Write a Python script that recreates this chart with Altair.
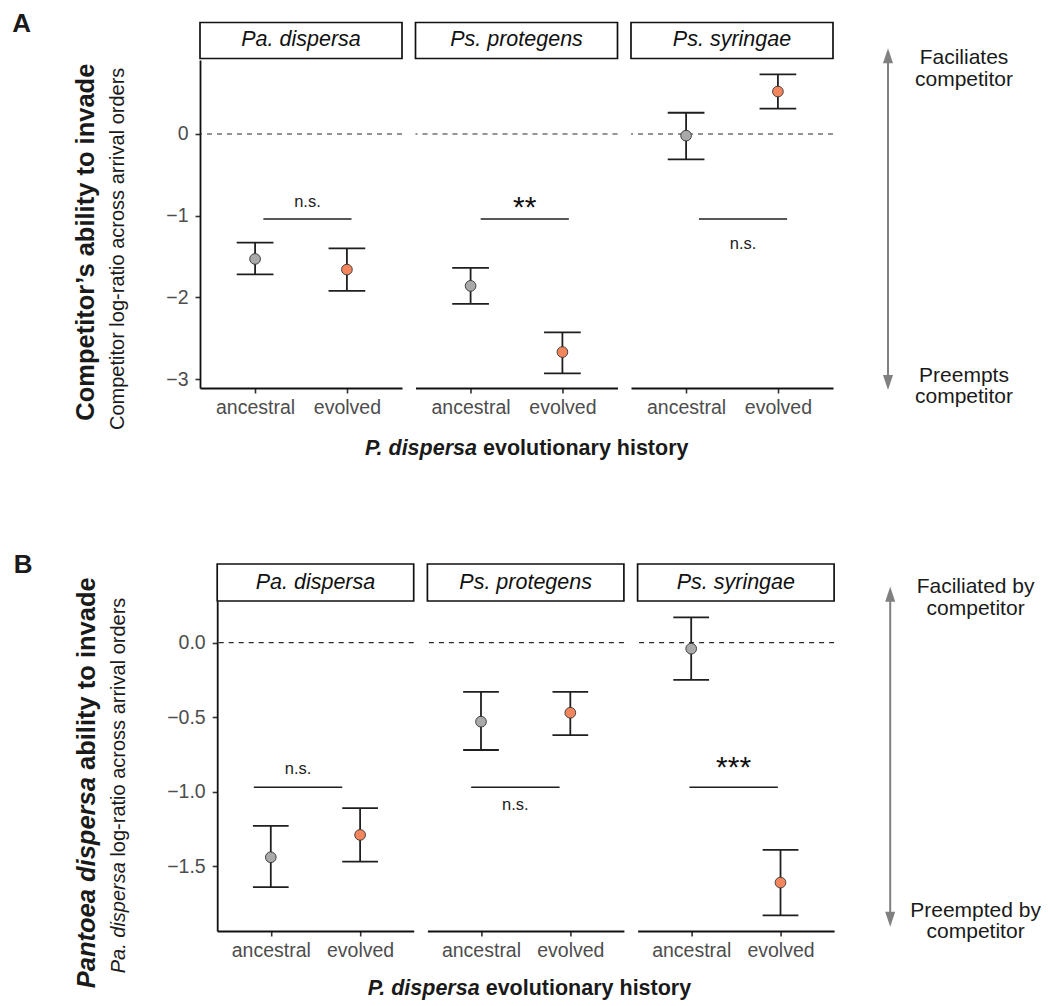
import json
import altair as alt
import pandas as pd

FONT = "Liberation Sans"
INK = "#1a1a1a"
TICK_GREY = "#4d4d4d"
LINE = "#1f1f1f"

species = ["Pa. dispersa", "Ps. protegens", "Ps. syringae"]
history = ["ancestral", "evolved"]
history_fill = ["#a9a9a9", "#f4865e"]

# (A) competitor log-ratio across arrival orders; order: species x (ancestral, evolved)
a_mean = [-1.53, -1.66, -1.86, -2.67, -0.02, 0.52]
a_lower = [-1.72, -1.92, -2.08, -2.93, -0.31, 0.31]
a_upper = [-1.33, -1.40, -1.64, -2.43, 0.26, 0.73]
a_sig = ["n.s.", "**", "n.s."]
a_sig_line = [-1.04, -1.04, -1.04]
a_sig_label = [-0.83, -0.81, -1.35]
a_sig_from = [1.09, 1.11, 1.14]
a_sig_to = [2.05, 2.07, 2.10]

# (B) Pa. dispersa log-ratio across arrival orders
b_mean = [-1.44, -1.29, -0.53, -0.47, -0.04, -1.61]
b_lower = [-1.64, -1.47, -0.72, -0.62, -0.25, -1.83]
b_upper = [-1.23, -1.11, -0.33, -0.33, 0.17, -1.39]
b_sig = ["n.s.", "n.s.", "***"]
b_sig_line = [-0.97, -0.97, -0.97]
b_sig_label = [-0.85, -1.09, -0.79]
b_sig_from = [0.81, 0.89, 0.98]
b_sig_to = [1.80, 1.88, 1.97]

a_arrow_text = [["Faciliates", "competitor"], ["Preempts", "competitor"]]
b_arrow_text = [["Faciliated by", "competitor"], ["Preempted by", "competitor"]]

one = pd.DataFrame({"k": [0]})


def points_frame(mean, lower, upper):
    recs = []
    for i, sp in enumerate(species):
        for j, h in enumerate(history):
            n = 2 * i + j
            recs.append(dict(species=sp, history=h, mean=mean[n], lower=lower[n], upper=upper[n]))
    return pd.DataFrame(recs)


def sig_frame(sig, line, label, x_from, x_to):
    return pd.DataFrame(dict(species=species, sig=sig, line=line, ty=label, x_from=x_from, x_to=x_to))


def txt(text, x, y, size, weight="normal", style="normal", angle=0, align="left",
        baseline="alphabetic", color=INK):
    return alt.Chart(one).mark_text(
        text=text, font=FONT, fontSize=size, fontWeight=weight, fontStyle=style,
        angle=angle, align=align, baseline=baseline, color=color,
    ).encode(x=alt.value(x), y=alt.value(y))


def two_lines(lines, x, y_first, gap, size):
    # a two-line caption, drawn as one text mark per line
    return [txt(lines[0], x, y_first, size, align="center"),
            txt(lines[1], x, y_first + gap, size, align="center")]


def arrow(x, y_top, y_bottom):
    head = 225
    return [
        alt.Chart(one).mark_rule(color="#808080", strokeWidth=2).encode(
            x=alt.value(x), y=alt.value(y_top + 7), y2=alt.value(y_bottom - 7)
        ),
        alt.Chart(one).mark_point(shape="M0,-1L0.667,1L-0.667,1Z", size=head, filled=True,
                                  color="#808080", opacity=1).encode(x=alt.value(x), y=alt.value(y_top + 7.5)),
        alt.Chart(one).mark_point(shape="M0,1L0.667,-1L-0.667,-1Z", size=head, filled=True,
                                  color="#808080", opacity=1).encode(x=alt.value(x), y=alt.value(y_bottom - 7.5)),
    ]


def panel(k, pts, sig, spec):
    sp = species[k]
    w, h = spec["w"], spec["h"]
    xscale = alt.Scale(domain=[0.4, 2.6], nice=False, zero=False)
    yscale = alt.Scale(domain=spec["ydom"], nice=False, zero=False)
    xaxis = alt.Axis(
        values=[1, 2], title=None, grid=False, labelFlush=False,
        labelExpr=f"datum.value == 1 ? '{history[0]}' : '{history[1]}'",
    )
    yaxis = None
    if k == 0:
        yaxis = alt.Axis(values=spec["yticks"], format=spec["yfmt"], title=None, grid=False)

    def X(f):
        return alt.X(f, type="quantitative", scale=xscale, axis=xaxis)

    def Y(f):
        return alt.Y(f, type="quantitative", scale=yscale, axis=yaxis)

    pos = f"indexof({json.dumps(history)}, datum.history) + 1"
    base = alt.Chart(pts).transform_filter(alt.datum.species == sp).transform_calculate(
        xpos=pos
    ).transform_calculate(xl="datum.xpos - 0.2", xr="datum.xpos + 0.2")
    sbase = alt.Chart(sig).transform_filter(alt.datum.species == sp).transform_calculate(
        mid="(datum.x_from + datum.x_to) / 2"
    )

    zero = alt.Chart(one).mark_rule(strokeDash=[5, 5], color="#2a2a2a", strokeWidth=1.2).encode(
        y=alt.YDatum(0, type="quantitative", scale=yscale, axis=yaxis)
    )
    stem = base.mark_rule(color=LINE, strokeWidth=1.8).encode(x=X("xpos"), y=Y("lower"), y2="upper:Q")
    cap_lo = base.mark_rule(color=LINE, strokeWidth=1.8).encode(x=X("xl"), x2="xr:Q", y=Y("lower"))
    cap_hi = base.mark_rule(color=LINE, strokeWidth=1.8).encode(x=X("xl"), x2="xr:Q", y=Y("upper"))
    dots = base.mark_circle(size=115, stroke="#333333", strokeWidth=0.9, opacity=1).encode(
        x=X("xpos"), y=Y("mean"),
        color=alt.Color("history:N", scale=alt.Scale(domain=history, range=history_fill), legend=None),
    )
    bracket = sbase.mark_rule(color=LINE, strokeWidth=1.5).encode(x=X("x_from"), x2="x_to:Q", y=Y("line"))
    ns = sbase.transform_filter(alt.datum.sig == "n.s.").mark_text(
        font=FONT, fontSize=16.5, color="#222222", baseline="middle"
    ).encode(x=X("mid"), y=Y("ty"), text="sig:N")
    stars = sbase.transform_filter(alt.datum.sig != "n.s.").mark_text(
        font=FONT, fontSize=30, color="#111111", baseline="middle", dy=8
    ).encode(x=X("mid"), y=Y("ty"), text="sig:N")

    strip_box = alt.Chart(one).mark_rect(fill="white", stroke="#111111", strokeWidth=1.7).encode(
        x=alt.value(0), x2=alt.value(w), y=alt.value(spec["strip"][0]), y2=alt.value(spec["strip"][1])
    )
    strip_txt = alt.Chart(pd.DataFrame({"species": [sp]})).mark_text(
        font=FONT, fontSize=21.5, fontStyle="italic", color="#111111", baseline="alphabetic"
    ).encode(x=alt.value(w / 2), y=alt.value(spec["strip"][2]), text="species:N")

    layers = [zero, stem, cap_lo, cap_hi, dots, bracket, ns, stars, strip_box, strip_txt]
    layers += spec["extra"][k]
    return alt.layer(*layers).properties(width=w, height=h)


# ---- row A decorations
a_extra = [
    [
        alt.Chart(one).mark_rect(opacity=0).encode(
            x=alt.value(-200), x2=alt.value(0), y=alt.value(-60), y2=alt.value(0)
        ),
        txt("A", -187.7, -28.3, 26, weight="bold"),
        txt("Competitor\u2019s ability to invade", -105.7, 360.7, 25.5, weight="bold", angle=270),
        txt("Competitor log-ratio across arrival orders", -76, 370, 20, angle=270),
    ],
    [
        txt("P. dispersa", -50.5, 395, 21.5, weight="bold", style="italic"),
        txt("evolutionary history", 67.5, 395, 21.5, weight="bold"),
    ],
    arrow(257, -11.7, 330)
    + two_lines(a_arrow_text[0], 333, 4.3, 21.5, 21)
    + two_lines(a_arrow_text[1], 333, 321.7, 21.5, 21),
]

# ---- row B decorations
b_extra = [
    [
        txt("B", -203.4, -28.3, 26, weight="bold"),
        txt("Pantoea dispersa", -122.7, 387.3, 25.5, weight="bold", style="italic", angle=270),
        txt("ability to invade", -122.7, 169, 25.5, weight="bold", angle=270),
        txt("Pa. dispersa", -92.7, 372.3, 20, style="italic", angle=270),
        txt("log-ratio across arrival orders", -92.7, 255.6, 20, angle=270),
    ],
    [
        txt("P. dispersa", -59.7, 394, 21.5, weight="bold", style="italic"),
        txt("evolutionary history", 58.3, 394, 21.5, weight="bold"),
    ],
    arrow(252.6, -14.3, 325.7)
    + two_lines(b_arrow_text[0], 338, -7.7, 21.5, 21)
    + two_lines(b_arrow_text[1], 338, 315.7, 21.5, 21),
]

spec_a = dict(w=202, h=328, ydom=[-3.11, 0.906], yticks=[-3, -2, -1, 0], yfmt="d",
              strip=[-37.5, -1.5, -14.3], extra=a_extra)
spec_b = dict(w=196.5, h=330, ydom=[-1.935, 0.28], yticks=[-1.5, -1.0, -0.5, 0.0], yfmt=".1f",
              strip=[-37, 0, -11.7], extra=b_extra)

pts_a = points_frame(a_mean, a_lower, a_upper)
pts_b = points_frame(b_mean, b_lower, b_upper)
sig_a = sig_frame(a_sig, a_sig_line, a_sig_label, a_sig_from, a_sig_to)
sig_b = sig_frame(b_sig, b_sig_line, b_sig_label, b_sig_from, b_sig_to)

row_a = alt.hconcat(*[panel(k, pts_a, sig_a, spec_a) for k in range(3)], spacing=13.5, bounds="flush")

spacer = alt.Chart(one).mark_point(opacity=0).encode(x=alt.value(0), y=alt.value(0)).properties(
    width=3.5, height=330
)
row_b = alt.hconcat(spacer, *[panel(k, pts_b, sig_b, spec_b) for k in range(3)], spacing=13.2, bounds="flush")

# nested rows count as zero height under flush bounds, so the spacing spans row A's plot height too
chart = alt.vconcat(row_a, row_b, spacing=541, bounds="flush").properties(padding=0).configure_view(
    stroke=None
).configure_axis(
    domainColor="#111111", domainWidth=1.8, tickColor="#333333", tickWidth=1.6, tickSize=5,
    labelFont=FONT, labelFontSize=19.5, labelColor=TICK_GREY, labelPadding=5,
).configure_axisY(labelPadding=7)

chart.save("out.html", embed_options={"renderer": "svg", "actions": False})
